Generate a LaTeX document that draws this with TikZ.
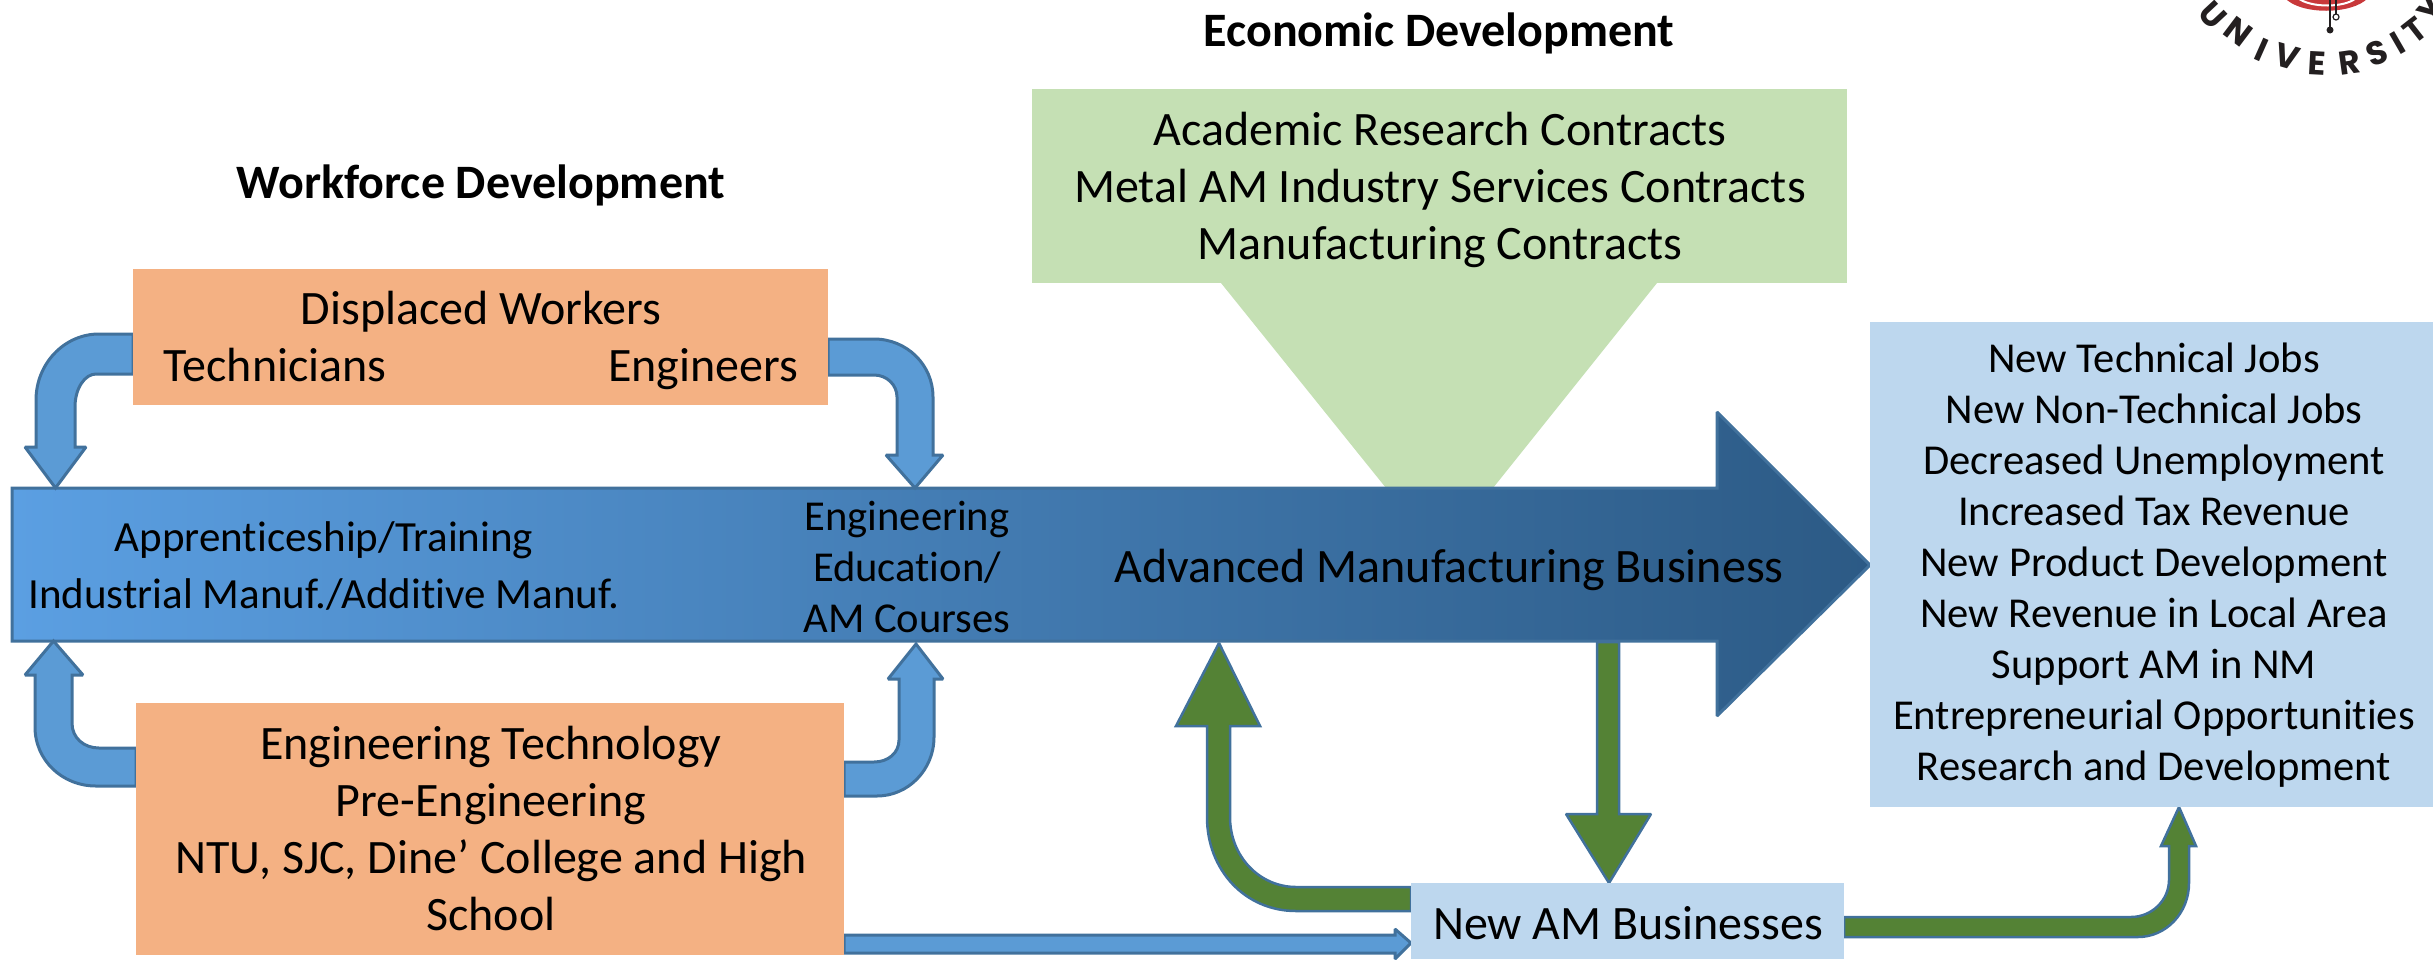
\documentclass[tikz,border=0pt]{standalone}
\usepackage{fontspec}
\setmainfont[Ligatures=NoCommon]{Carlito}
\newfontfamily\logofont{Poppins}
\usetikzlibrary{calc}
\definecolor{orangebox}{HTML}{F4B183}
\definecolor{greenbox}{HTML}{C5E0B4}
\definecolor{bluebox}{HTML}{BDD7EE}
\definecolor{blockblue}{HTML}{5B9BD5}
\definecolor{blockgreen}{HTML}{548235}
\definecolor{blockedge}{HTML}{41719C}
\definecolor{mainL}{HTML}{5B9FE2}
\definecolor{mainM}{HTML}{437DB6}
\definecolor{mainR}{HTML}{2C5A85}
\definecolor{logored}{HTML}{C8383A}
\definecolor{logoink}{HTML}{231F20}
\pgfdeclarelayer{bg}
\pgfsetlayers{bg,main}
\tikzset{
  boxnode/.style={anchor=north west,inner sep=0pt,outer sep=0pt},
  bluearrow/.style={fill=blockblue,draw=blockedge,line width=3pt,miter limit=2},
  greenarrow/.style={fill=blockgreen,draw=blockedge,line width=2.5pt,miter limit=2},
  bigtext/.style={font=\fontsize{48}{57}\selectfont,align=center,inner sep=0pt},
  midtext/.style={font=\fontsize{42.6}{51}\selectfont,align=center,inner sep=0pt},
  pairtext/.style={font=\fontsize{43}{57}\selectfont,align=center,inner sep=0pt},
  headtext/.style={font=\fontsize{48}{57}\selectfont\bfseries,align=center,inner sep=0pt},
  logoletter/.style={font=\fontsize{33}{35}\logofont\bfseries,text=logoink,inner sep=0pt},
}
\begin{document}
\begin{tikzpicture}[x=1pt,y=-1pt]
\useasboundingbox (0,0) rectangle (2433,959);
\clip (0,0) rectangle (2433,959);
% boxes
\node[boxnode,fill=orangebox,minimum width=695pt,minimum height=136pt] (disp) at (133,269) {};
\node[boxnode,fill=orangebox,minimum width=708pt,minimum height=252pt] (eng) at (136,703) {};
\node[boxnode,fill=greenbox,minimum width=815pt,minimum height=194pt] (econ) at (1032,89) {};
\node[boxnode,fill=bluebox,minimum width=563pt,minimum height=485pt] (out) at (1870,322) {};
\node[boxnode,fill=bluebox,minimum width=433pt,minimum height=76pt] (biz) at (1411,883) {};
\coordinate (mainT) at (12,488);
\coordinate (mainB) at (12,641);
\begin{pgfonlayer}{bg}
% funnel from the green box
\fill[greenbox] (econ.south -| 1221,0) -- (econ.south -| 1657,0) -- (1493,0 |- mainT) -- (1386,0 |- mainT) -- cycle;
% main arrow
\shadedraw[left color=mainL,middle color=mainM,right color=mainR,draw=blockedge,line width=3pt,miter limit=1.5]
  (mainT) -- (1717,0 |- mainT) -- (1717,412) -- (1870,565) -- (1717,716) -- (1717,0 |- mainB) -- (mainB) -- cycle;
% displaced -> main, left
\draw[bluearrow] (disp.west |- 0,334) -- (99,334) .. controls (64,334) and (36,364) .. (36,400) -- (36,447) -- (25,447) -- (55.5,0 |- mainT) -- (86,447) -- (75,447) -- (75,407) .. controls (75,388) and (85,374) .. (96,374) -- (disp.west |- 0,374) -- cycle;
% displaced -> main, right
\draw[bluearrow] (disp.east |- 0,339) -- (874,339) .. controls (907,339) and (933,365) .. (933,397) -- (933,455) -- (943,455) -- (915,0 |- mainT) -- (886,455) -- (897,455) -- (897,397) .. controls (897,385) and (887,375) .. (874,375) -- (disp.east |- 0,375) -- cycle;
% eng -> main, left
\draw[bluearrow] (eng.west |- 0,748) -- (99,748) .. controls (84,748) and (72,738) .. (72,723) -- (72,675) -- (83,675) -- (53.5,0 |- mainB) -- (25,675) -- (35,675) -- (35,727) .. controls (35,760) and (62,786) .. (96,786) -- (eng.west |- 0,786) -- cycle;
% eng -> main, right
\draw[bluearrow] (eng.east |- 0,762) -- (874,762) .. controls (888,762) and (899,753) .. (899,740) -- (899,679) -- (888,679) -- (916,644) -- (943,679) -- (934,679) -- (934,737) .. controls (934,770) and (908,796) .. (877,796) -- (eng.east |- 0,796) -- cycle;
% eng -> biz
\draw[bluearrow] (eng.east |- 0,935) -- (1395,935) -- (1395,929) -- (biz.west |- 0,943) -- (1395,959) -- (1395,953) -- (eng.east |- 0,953) -- cycle;
% biz -> main
\draw[greenarrow] (biz.west |- 0,887) -- (1296,887) .. controls (1260,887) and (1230,857) .. (1230,817) -- (1230,726) -- (1260,726) -- (1219,643) -- (1176,726) -- (1207,726) -- (1207,817) .. controls (1207,870) and (1245,911) .. (1296,911) -- (biz.west |- 0,911) -- cycle;
% main -> biz
\draw[greenarrow] (1597,642) -- (1619,642) -- (1619,814) -- (1651,814) -- (1609,0 |- biz.north) -- (1566,814) -- (1597,814) -- cycle;
% biz -> outcomes
\draw[greenarrow] (biz.east |- 0,917) -- (2131,917) .. controls (2152,917) and (2169,900) .. (2169,880) -- (2169,846) -- (2161,846) -- (2179,0 |- out.south) -- (2196,846) -- (2189,846) -- (2189,883) .. controls (2189,913) and (2166,937) .. (2138,937) -- (biz.east |- 0,937) -- cycle;
\end{pgfonlayer}
% texts
\node[headtext] (wfhead) at (481,187) {\strut Workforce Development\strut};
\node[headtext] (edhead) at (1439,35) {\strut Economic Development\strut};
\node[bigtext] (t1) at (481,313) {\strut Displaced Workers\strut};
\node[bigtext] (t2) at (275,370) {\strut Technicians\strut};
\node[bigtext] (t3) at (703,370) {\strut Engineers\strut};
\node[pairtext] (t4) at (324,569) {\strut Apprenticeship/Training\\Industrial Manuf./Additive Manuf.\strut};
\node[midtext] (t5) at (907,571) {\strut Engineering\\Education/\\AM Courses\strut};
\node[bigtext] (t6) at (1449,571) {\strut Advanced Manufacturing Business\strut};
\node[bigtext] (t7) at (491,834) {\strut Engineering Technology\\Pre-Engineering\\NTU, SJC, Dine’ College and High\\School\strut};
\node[bigtext] (t8) at (1440,191) {\strut Academic Research Contracts\\Metal AM Industry Services Contracts\\Manufacturing Contracts\strut};
\node[midtext] (t9) at (2154,566) {\strut New Technical Jobs\\New Non-Technical Jobs\\Decreased Unemployment\\Increased Tax Revenue\\New Product Development\\New Revenue in Local Area\\Support AM in NM\\Entrepreneurial Opportunities\\Research and Development\strut};
\node[bigtext] (t10) at (1628,928) {\strut New AM Businesses\strut};
% logo
\fill[logored] (2285,-2) .. controls (2300,15) and (2352,15) .. (2368,-2) -- cycle;
\draw[white,line width=2pt] (2298,-2) .. controls (2310,8) and (2345,8) .. (2356,-2);
\draw[logoink,line width=1.2pt] (2330,-2) -- (2330,29);
\fill[logoink] (2330,30) circle[radius=3.5];
\draw[logoink,line width=1.2pt] (2336,-2) -- (2336,14);
\draw[logoink,line width=1.2pt,fill=white] (2336,17) circle[radius=3];
\node[logoletter,rotate=-47] (lU) at (2213,15) {U};
\node[logoletter,rotate=-37] (lN) at (2238,32) {N};
\node[logoletter,rotate=-24] (lI) at (2262,50) {I};
\node[logoletter,rotate=-16] (lV) at (2287,57) {V};
\node[logoletter,rotate=-3] (lE) at (2317,63) {E};
\node[logoletter,rotate=8] (lR) at (2350,63) {R};
\node[logoletter,rotate=20] (lS) at (2377,53) {S};
\node[logoletter,rotate=30] (lI2) at (2398,43) {I};
\node[logoletter,rotate=38] (lT) at (2415,30) {T};
\node[logoletter,rotate=48] (lY) at (2431,11) {Y};
\end{tikzpicture}
\end{document}
